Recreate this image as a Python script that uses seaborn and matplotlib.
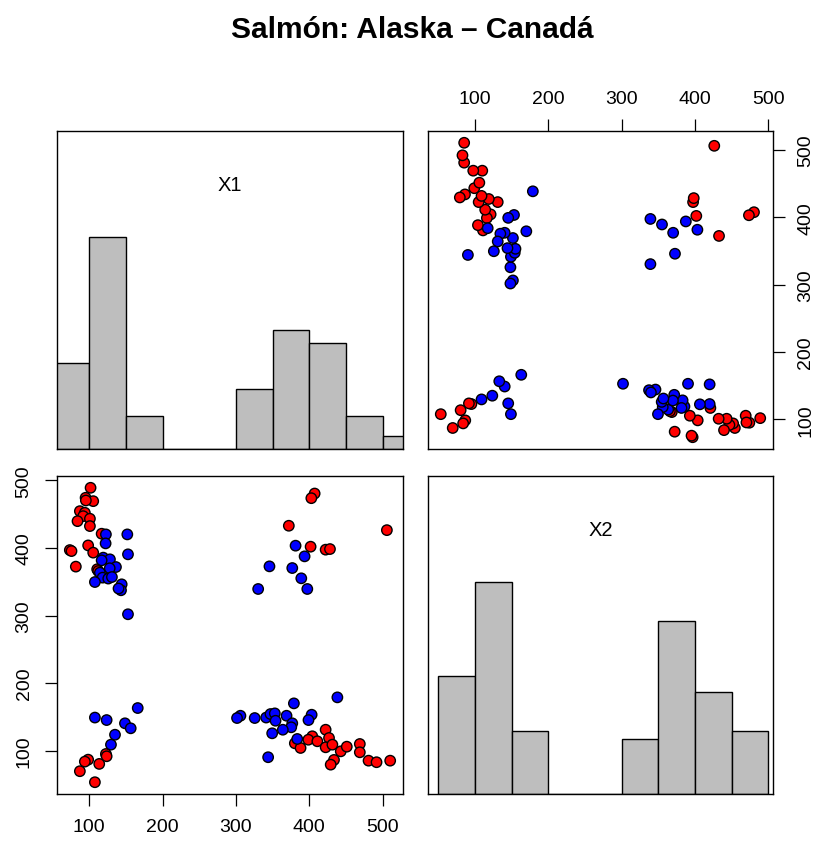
import numpy as np
import pandas as pd
import matplotlib
matplotlib.use("Agg")
import matplotlib.pyplot as plt
import seaborn as sns

sns.set_theme(style="white")
plt.rcParams['font.family'] = ['Liberation Sans', 'DejaVu Sans']
plt.rcParams.update({"text.color": "black", "axes.labelcolor": "black",
                     "xtick.color": "black", "ytick.color": "black"})

# ---- data ----
x1_red = [101.9, 95.1, 105.5, 95.5, 87.3, 94.1, 91.8, 101.0, 84.1, 101.0, 117.0, 73.6, 75.9, 98.6,
          105.5, 81.8, 110.9, 112.3,
          407.4, 402.9, 372.2, 505.9, 401.9, 422.4, 428.3,
          122.8, 123.8, 98.6, 94.1, 113.7, 87.3, 107.8,
          422.4, 427.0, 404.2, 398.8, 411.1, 380.4, 388.2, 422.4, 431.6, 443.0, 451.2, 469.0, 469.0,
          433.8, 429.3, 480.9, 491.8, 510.4]
x2_red = [489.1, 474.3, 469.3, 470.3, 454.5, 452.1, 447.1, 443.3, 439.7, 432.4, 421.1, 396.9, 395.4, 403.8,
          393.1, 372.4, 368.5, 365.9,
          480.6, 473.7, 432.9, 426.4, 401.9, 397.5, 398.4,
          95.1, 91.7, 86.7, 83.8, 80.4, 69.6, 53.3,
          131.0, 118.8, 121.3, 116.2, 113.9, 110.9, 104.0, 105.0, 108.9, 99.0, 105.9, 109.9, 97.6,
          86.3, 79.3, 85.2, 82.9, 85.2]
x1_blue = [122.8, 152.0, 122.4, 152.9, 119.2, 128.3, 117.0, 136.5, 114.6, 118.3, 126.0, 107.8, 144.3,
           143.4, 152.9, 128.0, 131.0, 140.0,
           381.4, 393.7, 345.8, 376.9, 389.2, 330.4, 397.4,
           166.2, 107.8, 123.8, 148.8, 156.6, 135.2, 129.7,
           438.4, 379.1, 306.2, 301.6, 325.7, 341.3, 347.2, 353.1, 354.1, 369.1, 376.9, 375.5, 364.0,
           349.5, 403.3, 399.0, 383.7, 344.0]
x2_blue = [420.1, 420.1, 406.8, 390.6, 385.7, 383.2, 381.7, 371.8, 363.5, 356.1, 354.7, 349.6, 346.2,
           337.4, 301.9, 370.0, 357.0, 340.0,
           403.4, 387.6, 372.8, 370.3, 355.1, 339.3, 339.3,
           163.1, 149.0, 145.3, 140.5, 133.1, 123.6, 108.9,
           178.9, 170.0, 151.7, 148.3, 148.3, 149.0, 154.2, 155.2, 144.3, 151.7, 140.5, 134.6, 131.0,
           125.7, 153.2, 145.3, 117.3, 90.3]
groups = ["Canadá", "Alaska"]
colors = {"Canadá": "#FF0000", "Alaska": "#0000FF"}
var_names = ["X1", "X2"]
tick_vals = [100, 200, 300, 400, 500]

df = pd.DataFrame({
    "X1": x1_red + x1_blue,
    "X2": x2_red + x2_blue,
    "grupo": [groups[0]] * len(x1_red) + [groups[1]] * len(x1_blue),
})

def rlim(v):
    lo, hi = np.min(v), np.max(v)
    d = (hi - lo) * 0.04
    return lo - d, hi + d

lim1 = rlim(df["X1"])
lim2 = rlim(df["X2"])

W, H = 824, 845
fig = plt.figure(figsize=(W / 100, H / 100), dpi=100)

def ax_at(x0, y0, x1, y1):
    return fig.add_axes([x0 / W, 1 - y1 / H, (x1 - x0) / W, (y1 - y0) / H])

ax_h1 = ax_at(57, 132, 403, 450)
ax_ur = ax_at(428, 132, 773, 450)
ax_ll = ax_at(57, 477, 403, 795)
ax_h2 = ax_at(428, 477, 773, 795)

pt = dict(s=56, edgecolor="black", linewidth=1.0, legend=False, palette=colors, hue="grupo")
sns.scatterplot(data=df, x="X1", y="X2", ax=ax_ll, **pt)
sns.scatterplot(data=df, x="X2", y="X1", ax=ax_ur, **pt)

bins1 = np.arange(50, 551, 50)
bins2 = np.arange(50, 501, 50)
hk = dict(color="#BEBEBE", edgecolor="black", linewidth=1.0, alpha=1, stat="count")
sns.histplot(x=df["X1"], bins=bins1, ax=ax_h1, **hk)
sns.histplot(x=df["X2"], bins=bins2, ax=ax_h2, **hk)
m1 = np.histogram(df["X1"], bins=bins1)[0].max()
m2 = np.histogram(df["X2"], bins=bins2)[0].max()
ax_h1.set_ylim(0, m1 * 1.5)
ax_h2.set_ylim(0, m2 * 1.5)
ax_h1.set_xlim(lim1)
ax_h2.set_xlim(lim2)
ax_ll.set_xlim(lim1); ax_ll.set_ylim(lim2)
ax_ur.set_xlim(lim2); ax_ur.set_ylim(lim1)

for ax, name in [(ax_h1, var_names[0]), (ax_h2, var_names[1])]:
    ax.set_xticks([]); ax.set_yticks([])
    ax.text(0.5, 0.833, name, transform=ax.transAxes, ha="center", va="center",
            fontsize=14.5, color="black")

for ax in [ax_h1, ax_h2, ax_ll, ax_ur]:
    ax.set_xlabel(""); ax.set_ylabel("")
    for sp in ax.spines.values():
        sp.set_color("black"); sp.set_linewidth(1.0)

tk = dict(direction="out", length=8.5, width=0.9, color="black", labelcolor="black",
          labelsize=14, pad=9)
ax_ll.set_xticks(tick_vals); ax_ll.set_yticks(tick_vals)
ax_ll.tick_params(axis="both", bottom=True, left=True, **tk)
ax_ll.tick_params(axis="y", labelrotation=90)
plt.setp(ax_ll.get_yticklabels(), va="center")

ax_ur.set_xticks(tick_vals); ax_ur.set_yticks(tick_vals)
ax_ur.xaxis.tick_top(); ax_ur.yaxis.tick_right()
ax_ur.tick_params(axis="both", top=True, right=True, bottom=False, left=False, **tk)
ax_ur.tick_params(axis="y", labelrotation=90)
plt.setp(ax_ur.get_yticklabels(), va="center")

fig.text(0.5, 1 - 30 / H, "Salmón: Alaska – Canadá", ha="center", va="center",
         fontsize=21.5, fontweight="bold", color="black")

fig.savefig("out.png", dpi=100)
